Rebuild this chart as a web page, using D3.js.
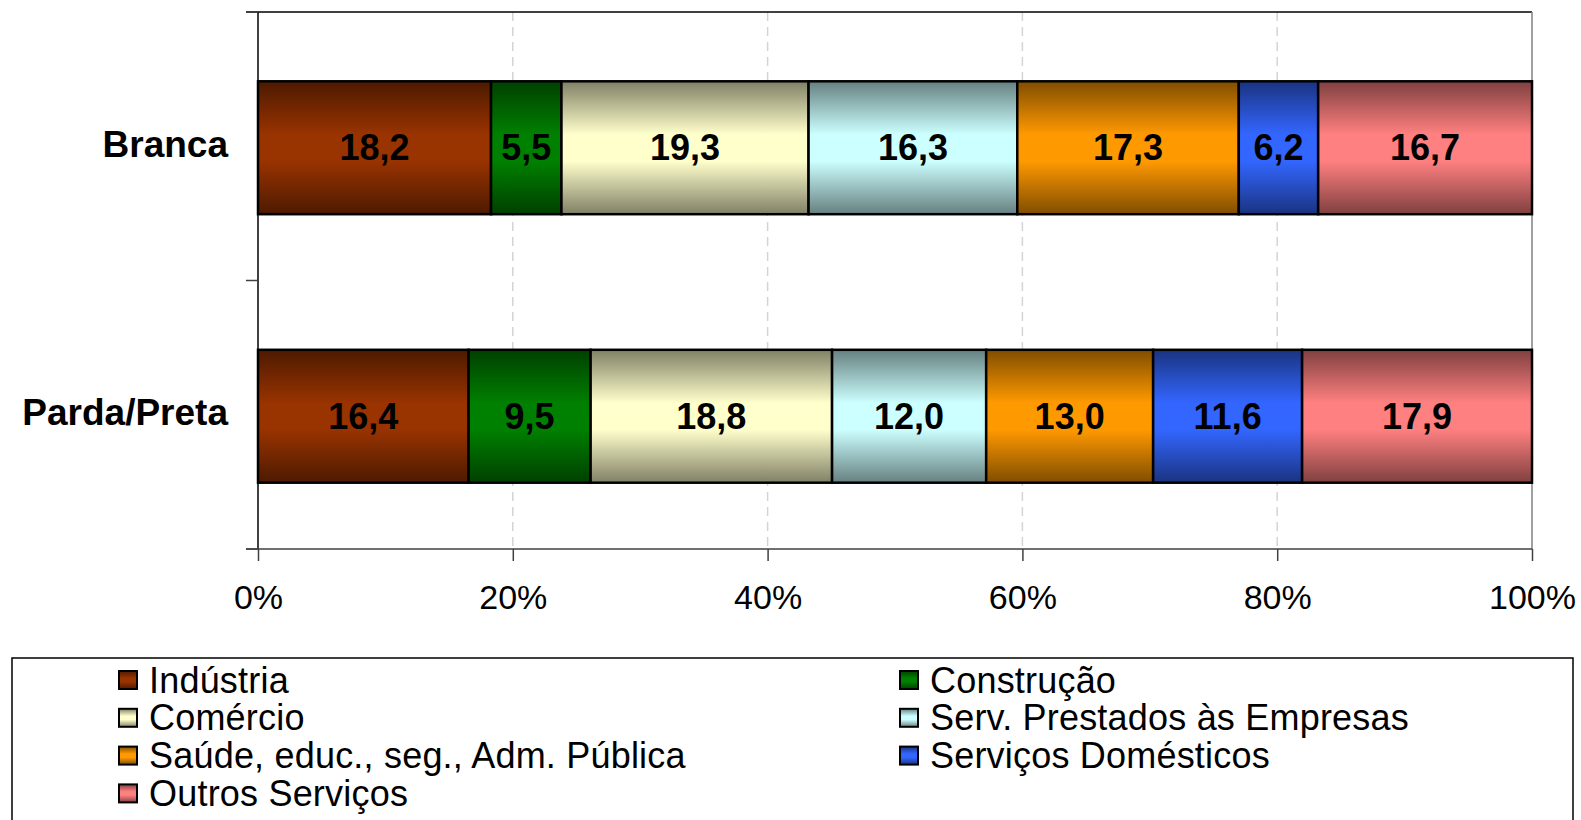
<!DOCTYPE html>
<html lang="pt">
<head>
    <meta charset="UTF-8">
    <title>Distribuição por setor - Branca x Parda/Preta</title>
    <style>
        body { margin: 0; background: #ffffff; }
        svg { display: block; font-family: "Liberation Sans", Arial, sans-serif; }
    </style>
    <script src="https://d3js.org/d3.v7.min.js"></script>
</head>
<body>
<svg id="chart" width="1581" height="820"></svg>
<script>
    // Data
    var categories = ["Branca", "Parda/Preta"];
    var sectors = ["Indústria", "Construção", "Comércio", "Serv. Prestados às Empresas",
                   "Saúde, educ., seg., Adm. Pública", "Serviços Domésticos", "Outros Serviços"];
    var branca = [18.2, 5.5, 19.3, 16.3, 17.3, 6.2, 16.7];
    var pardaPreta = [16.4, 9.5, 18.8, 12.0, 13.0, 11.6, 17.9];
    var xTicks = [0, 0.2, 0.4, 0.6, 0.8, 1];
    var colors = ["#993300", "#008000", "#FFFFCC", "#CCFFFF", "#FF9900", "#3366FF", "#FF8080"];

    var svg = d3.select("#chart");
    var plotLeft = 258, plotRight = 1532, plotTop = 12, plotBottom = 549;

    // rows for d3.stack
    var seriesValues = [branca, pardaPreta];
    var rows = categories.map(function (c, i) {
        var r = { cat: c };
        sectors.forEach(function (s, j) { r[s] = seriesValues[i][j]; });
        return r;
    });
    var stacked = d3.stack().keys(sectors).offset(d3.stackOffsetExpand)(rows);

    var x = d3.scaleLinear().domain([0, 1]).range([plotLeft, plotRight]);
    var y = d3.scaleBand().domain(categories).range([plotTop + 1.5, plotBottom + 1.5])
        .paddingInner(0.505).paddingOuter(0.2525);

    // gradients (dark at top and bottom, full colour in the middle)
    var defs = svg.append("defs");
    colors.forEach(function (c, i) {
        var dark = d3.interpolateRgb(c, "#000000")(0.5);
        var g = defs.append("linearGradient").attr("id", "grad" + i)
            .attr("x1", 0).attr("y1", 0).attr("x2", 0).attr("y2", 1);
        g.append("stop").attr("offset", "0%").attr("stop-color", dark);
        g.append("stop").attr("offset", "40%").attr("stop-color", c);
        g.append("stop").attr("offset", "60%").attr("stop-color", c);
        g.append("stop").attr("offset", "100%").attr("stop-color", dark);
    });

    // gridlines
    svg.append("g").selectAll("line")
        .data(xTicks.filter(function (t) { return t > 0 && t < 1; }))
        .enter().append("line")
        .attr("x1", function (d) { return x(d); }).attr("x2", function (d) { return x(d); })
        .attr("y1", plotTop).attr("y2", plotBottom)
        .attr("stroke", "#d4d4d4").attr("stroke-width", 1.5)
        .attr("stroke-dasharray", "9,6");

    // plot border: top black, right gray
    svg.append("line").attr("x1", plotLeft - 12).attr("x2", plotRight).attr("y1", plotTop).attr("y2", plotTop)
        .attr("stroke", "#000").attr("stroke-width", 1.5);
    svg.append("line").attr("x1", plotRight).attr("x2", plotRight).attr("y1", plotTop).attr("y2", plotBottom)
        .attr("stroke", "#808080").attr("stroke-width", 1.5);

    // bars
    var layer = svg.append("g").selectAll("g")
        .data(stacked).enter().append("g")
        .attr("fill", function (d, i) { return "url(#grad" + i + ")"; });

    layer.selectAll("rect")
        .data(function (d) { return d; })
        .enter().append("rect")
        .attr("x", function (d) { return x(d[0]); })
        .attr("y", function (d) { return y(d.data.cat); })
        .attr("width", function (d) { return x(d[1]) - x(d[0]); })
        .attr("height", y.bandwidth())
        .attr("stroke", "#000").attr("stroke-width", 2.5);

    // value labels
    layer.selectAll("text")
        .data(function (d) { return d.map(function (p) { p.key = d.key; return p; }); })
        .enter().append("text")
        .attr("x", function (d) { return (x(d[0]) + x(d[1])) / 2; })
        .attr("y", function (d) { return y(d.data.cat) + y.bandwidth() / 2 + 12.5; })
        .attr("text-anchor", "middle")
        .attr("font-size", 36).attr("font-weight", "bold").attr("fill", "#000")
        .text(function (d) { return d3.format(".1f")(d.data[d.key]).replace(".", ","); });

    // y axis
    svg.append("line").attr("x1", plotLeft).attr("x2", plotLeft).attr("y1", plotTop).attr("y2", plotBottom)
        .attr("stroke", "#000").attr("stroke-width", 1.5);
    var boundaries = [plotTop, (plotTop + plotBottom) / 2, plotBottom];
    svg.append("g").selectAll("line").data(boundaries).enter().append("line")
        .attr("x1", plotLeft - 12).attr("x2", plotLeft)
        .attr("y1", function (d) { return d; }).attr("y2", function (d) { return d; })
        .attr("stroke", "#404040").attr("stroke-width", 1.5);

    svg.append("g").selectAll("text").data(categories).enter().append("text")
        .attr("x", 228)
        .attr("y", function (d) { return y(d) + y.bandwidth() / 2 + 9; })
        .attr("text-anchor", "end")
        .attr("font-size", 37).attr("font-weight", "bold").attr("fill", "#000")
        .text(function (d) { return d; });

    // x axis
    var xAxis = svg.append("g").attr("transform", "translate(0," + plotBottom + ")")
        .call(d3.axisBottom(x).tickValues(xTicks).tickFormat(d3.format(".0%"))
            .tickSize(12).tickSizeOuter(0).tickPadding(24));
    xAxis.select(".domain").remove();
    xAxis.append("line").attr("x1", plotLeft - 12).attr("x2", plotRight)
        .attr("stroke", "#404040").attr("stroke-width", 1.5);
    xAxis.selectAll(".tick line").attr("stroke", "#404040").attr("stroke-width", 1.5);
    xAxis.selectAll(".tick text").attr("font-size", 34).attr("fill", "#000")
        .attr("font-family", "'Liberation Sans', Arial, sans-serif");

    // legend
    var legend = svg.append("g");
    legend.append("rect").attr("x", 12).attr("y", 658).attr("width", 1561).attr("height", 200)
        .attr("fill", "#fff").attr("stroke", "#000").attr("stroke-width", 1.5);

    var colX = [119, 900], rowY0 = 680, rowStep = 37.8;
    var items = legend.selectAll("g.item").data(sectors).enter().append("g")
        .attr("class", "item")
        .attr("transform", function (d, i) {
            return "translate(" + colX[i % 2] + "," + (rowY0 + Math.floor(i / 2) * rowStep) + ")";
        });
    items.append("rect").attr("x", 0).attr("y", -9).attr("width", 18).attr("height", 18)
        .attr("fill", function (d, i) { return "url(#grad" + i + ")"; })
        .attr("stroke", "#000").attr("stroke-width", 2);
    items.append("text").attr("x", 30).attr("y", 12.5)
        .attr("font-size", 36).attr("letter-spacing", 0.2).attr("fill", "#000")
        .text(function (d) { return d; });
</script>
</body>
</html>
